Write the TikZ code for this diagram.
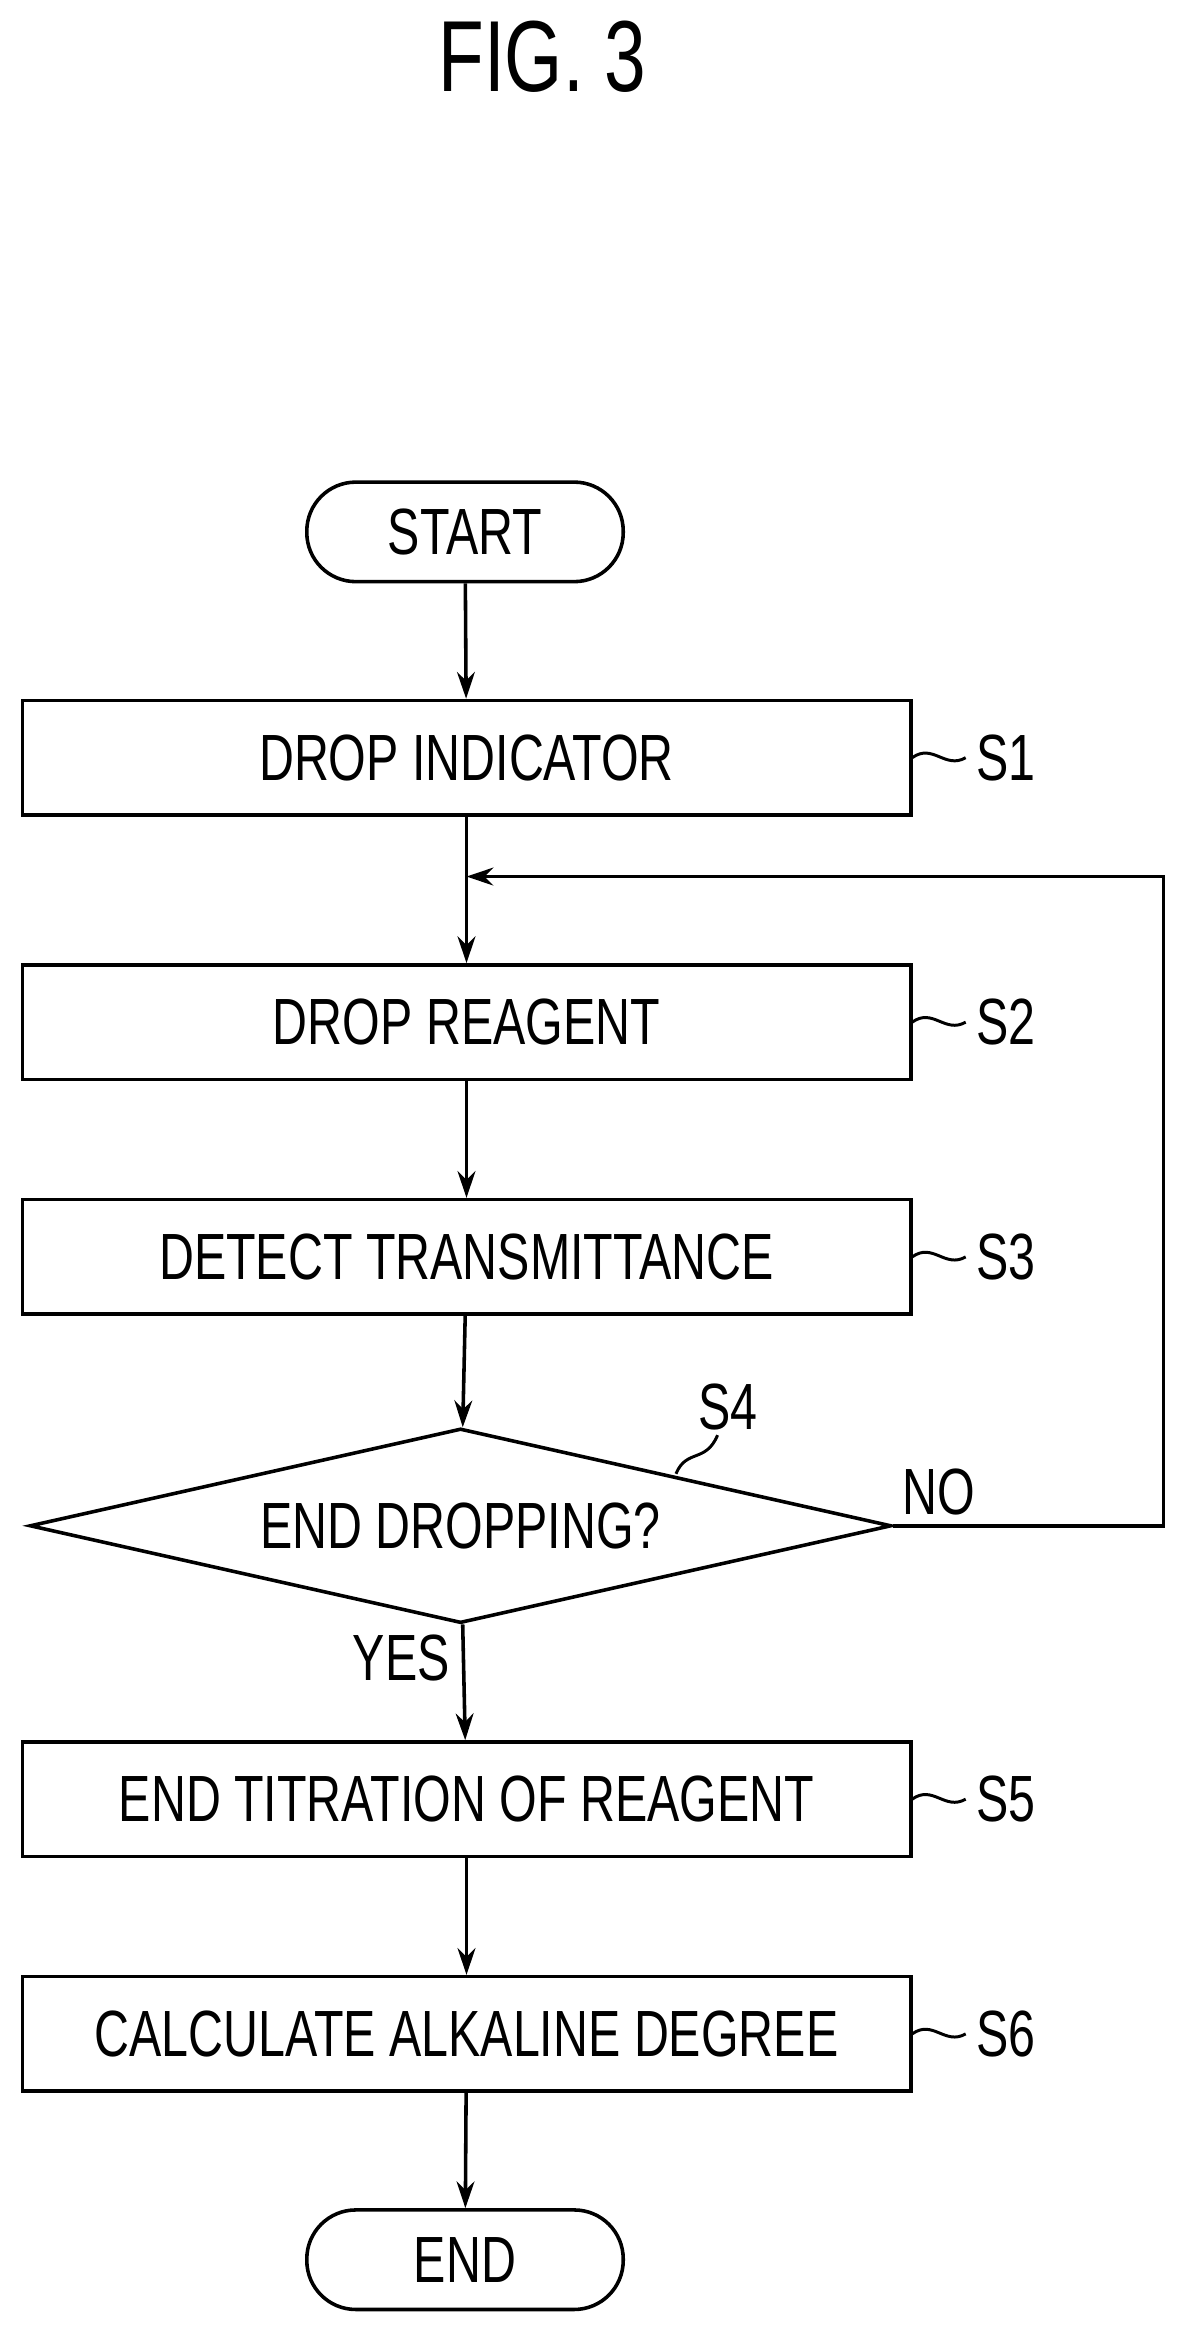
\documentclass[tikz,border=0pt]{standalone}
\usepackage{graphicx}
\usepackage{fontspec}
\setmainfont{Liberation Sans}
\usetikzlibrary{shapes.geometric,arrows.meta}
\newcommand{\nq}[1]{\scalebox{0.74}[1]{#1}}
\begin{document}
\begin{tikzpicture}[x=0.5pt,y=-0.5pt,
  txt/.style={font=\fontsize{22}{26}\selectfont},
  box/.style={draw,line width=1.2pt,minimum width=299pt,minimum height=38.5pt,txt},
  term/.style={draw,line width=1.2pt,rounded corners=16.5pt,minimum width=106.5pt,minimum height=33.5pt,txt},
  arr/.style={line width=1.2pt,-{Stealth[length=9pt,width=6pt]}},
  sq/.style={line width=1pt}]
\useasboundingbox (0,0) rectangle (800,1569);
\node[font=\fontsize{34}{40}\selectfont] (title) at (365,38) {\nq{FIG. 3}};
\node[term] (start) at (313,358) {\nq{START}};
\node[box] (s1) at (314,510) {\nq{DROP INDICATOR}};
\node[box] (s2) at (314,688) {\nq{DROP REAGENT}};
\node[box] (s3) at (314,846) {\nq{DETECT TRANSMITTANCE}};
\node[draw,line width=1.2pt,diamond,aspect=4.43,inner sep=0pt,minimum width=290pt,minimum height=65.5pt,txt] (s4) at (310,1027) {\nq{END DROPPING?}};
\node[box] (s5) at (314,1211) {\nq{END TITRATION OF REAGENT}};
\node[box] (s6) at (314,1369) {\nq{CALCULATE ALKALINE DEGREE}};
\node[term] (end) at (313,1521) {\nq{END}};
\coordinate (j) at (314,590);
\coordinate (c1) at (783,1027);
\coordinate (c2) at (783,590);
\draw[arr] (start) -- (s1);
\draw[line width=1.2pt] (s1) -- (j);
\draw[arr] (j) -- (s2);
\draw[arr] (s2) -- (s3);
\draw[arr] (s3) -- (s4);
\draw[arr] (s4) -- (s5);
\draw[arr] (s5) -- (s6);
\draw[arr] (s6) -- (end);
\draw[arr] (s4.east) -- (c1) -- (c2) -- (j);
\node[txt] (no) at (632,1004) {\nq{NO}};
\node[txt] (yes) at (270,1116) {\nq{YES}};
\foreach \n/\y in {1/510,2/688,3/846,5/1211,6/1369}{
  \node[txt,anchor=west] (l\n) at (650,\y) {\nq{S\n}};
  \draw[sq] (614,\y) .. controls (628,\y-10) and (636,\y+8) .. (l\n.west);
}
\node[txt] (l4) at (490,947) {\nq{S4}};
\draw[sq] (455,992) .. controls (462,975) and (475,985) .. (483,966);
\end{tikzpicture}
\end{document}
